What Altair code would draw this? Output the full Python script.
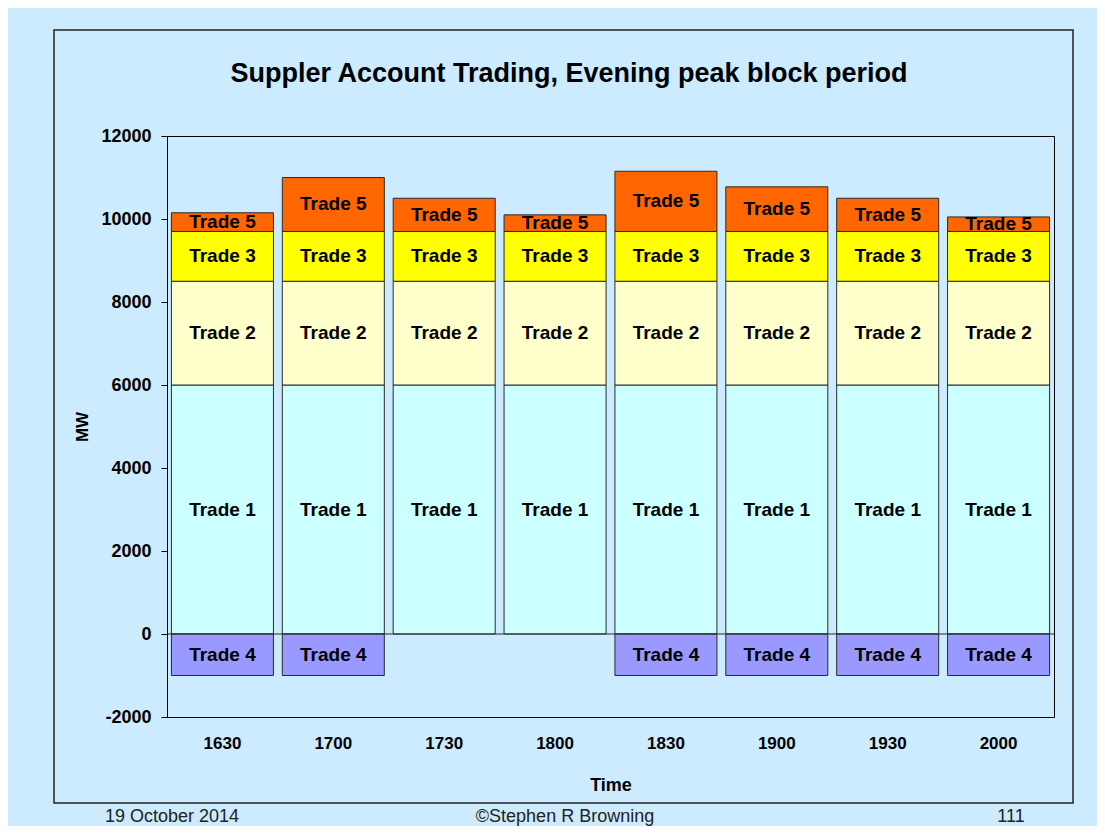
import altair as alt
import pandas as pd

times = ["1630", "1700", "1730", "1800", "1830", "1900", "1930", "2000"]
trade1 = [6000, 6000, 6000, 6000, 6000, 6000, 6000, 6000]
trade2 = [2500, 2500, 2500, 2500, 2500, 2500, 2500, 2500]
trade3 = [1200, 1200, 1200, 1200, 1200, 1200, 1200, 1200]
trade5 = [450, 1300, 800, 400, 1450, 1075, 800, 350]
trade4 = [-1000, -1000, 0, 0, -1000, -1000, -1000, -1000]

trade_names = ["Trade 1", "Trade 2", "Trade 3", "Trade 4", "Trade 5"]
trade_colors = ["#CCFFFF", "#FFFFCC", "#FFFF00", "#9999FF", "#FF6600"]
y_ticks = [-2000, 0, 2000, 4000, 6000, 8000, 10000, 12000]

title_text = "Suppler Account Trading, Evening peak block period"
footer_left = "19 October 2014"
footer_mid = "\u00a9Stephen R Browning"
footer_right = "111"

FONT = "Liberation Sans"
BG = "#CCEBFE"

# build stacked segments (positives stack upward in order 1,2,3,5; trade 4 downward)
rows = []
for i, t in enumerate(times):
    base = 0
    for name, series in (("Trade 1", trade1), ("Trade 2", trade2), ("Trade 3", trade3), ("Trade 5", trade5)):
        v = series[i]
        if v > 0:
            rows.append({"time": t, "trade": name, "start": base, "end": base + v})
            base += v
    if trade4[i] < 0:
        rows.append({"time": t, "trade": "Trade 4", "start": 0, "end": trade4[i]})
df = pd.DataFrame(rows)
df["mid"] = (df["start"] + df["end"]) / 2

x_enc = alt.X(
    "time:N",
    sort=times,
    scale=alt.Scale(paddingInner=0.08, paddingOuter=0.04),
    axis=alt.Axis(
        title="Time",
        titleFont=FONT,
        titleFontSize=18,
        titleFontWeight="bold",
        titleColor="black",
        titlePadding=25,
        labelFont=FONT,
        labelFontSize=17,
        labelFontWeight="bold",
        labelColor="black",
        labelPadding=18,
        labelAngle=0,
        ticks=False,
        domain=False,
    ),
)
y_scale = alt.Scale(domain=[-2000, 12000], nice=False, zero=False)

bars = alt.Chart(df).mark_bar(stroke="#2a2a2a", strokeWidth=1).encode(
    x=x_enc,
    y=alt.Y(
        "start:Q",
        scale=y_scale,
        axis=alt.Axis(
            values=y_ticks,
            title="MW",
            titleFont=FONT,
            titleFontSize=17,
            titleFontWeight="bold",
            titleColor="black",
            titlePadding=9,
            labelFont=FONT,
            labelFontSize=18,
            labelFontWeight="bold",
            labelColor="black",
            labelPadding=10,
            labelExpr="'' + datum.value",
            tickSize=6,
            tickColor="black",
            domainColor="black",
            grid=False,
        ),
    ),
    y2="end:Q",
    color=alt.Color(
        "trade:N",
        scale=alt.Scale(domain=trade_names, range=trade_colors),
        legend=None,
    ),
)

labels = alt.Chart(df).mark_text(
    font=FONT, fontSize=19, fontWeight="bold", color="black", baseline="middle"
).encode(
    x=alt.X("time:N", sort=times),
    y=alt.Y("mid:Q"),
    text="trade:N",
)

zero_rule = alt.Chart(pd.DataFrame({"z": [0]})).mark_rule(
    color="#2a2a2a", strokeWidth=1
).encode(y="z:Q")

one = pd.DataFrame({"a": [0]})
panel = alt.Chart(one).mark_rect(
    fillOpacity=0, stroke="#222222", strokeWidth=1.5
).encode(
    x=alt.value(-113), x2=alt.value(906), y=alt.value(-106), y2=alt.value(667)
)

title_mark = alt.Chart(one).mark_text(
    text=title_text, font=FONT, fontSize=27, fontWeight="bold", color="black",
    baseline="alphabetic", align="center"
).encode(x=alt.value(402), y=alt.value(-54))

footer_style = dict(font=FONT, fontSize=18, color="#222222", baseline="alphabetic", align="center")
foot1 = alt.Chart(one).mark_text(text=footer_left, **footer_style).encode(
    x=alt.value(5), y=alt.value(686)
)
foot2 = alt.Chart(one).mark_text(text=footer_mid, **footer_style).encode(
    x=alt.value(398), y=alt.value(686)
)
foot3 = alt.Chart(one).mark_text(text=footer_right, **footer_style).encode(
    x=alt.value(844), y=alt.value(686)
)

chart = alt.layer(panel, bars, zero_rule, labels, title_mark, foot1, foot2, foot3).properties(
    width=887,
    height=581,
    autosize=alt.AutoSizeParams(type="none"),
    padding={"left": 159, "top": 128, "right": 43, "bottom": 109},
    background=BG,
).configure_view(stroke="black", strokeWidth=1)

chart.save("out.html", embed_options={"renderer": "svg", "actions": False})
